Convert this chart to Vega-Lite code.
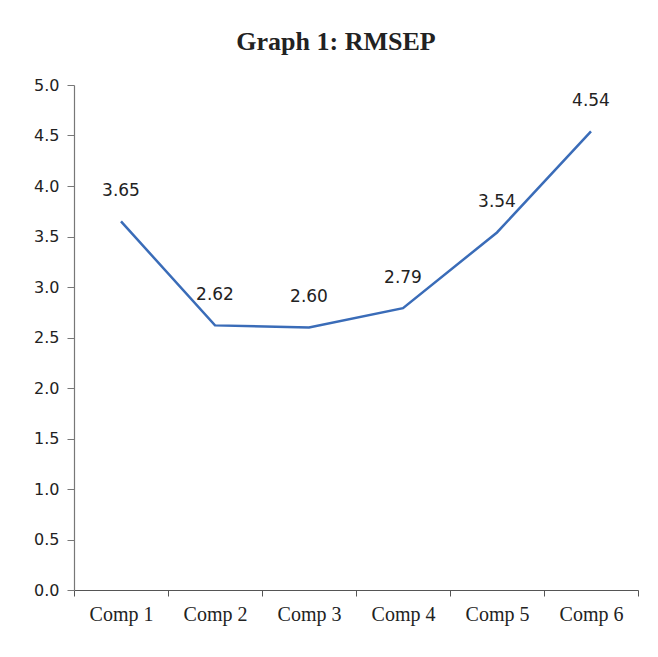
{
  "$schema": "https://vega.github.io/schema/vega-lite/v6.json",
  "width": 564,
  "height": 505,
  "autosize": {"type": "none"},
  "padding": {"left": 74, "top": 85, "right": 20, "bottom": 67},
  "background": "white",
  "title": {
    "text": "Graph 1: RMSEP",
    "font": "Liberation Serif",
    "fontWeight": "bold",
    "fontSize": 26,
    "color": "#222222",
    "anchor": "middle",
    "dx": -20,
    "offset": 22
  },
  "config": {
    "view": {"stroke": null},
    "axis": {"grid": false}
  },
  "data": {
    "values": [
      {"comp": "Comp 1", "rmsep": 3.65},
      {"comp": "Comp 2", "rmsep": 2.62},
      {"comp": "Comp 3", "rmsep": 2.60},
      {"comp": "Comp 4", "rmsep": 2.79},
      {"comp": "Comp 5", "rmsep": 3.54},
      {"comp": "Comp 6", "rmsep": 4.54}
    ]
  },
  "encoding": {
    "x": {
      "field": "comp",
      "type": "nominal",
      "sort": null,
      "scale": {"type": "band", "paddingInner": 0, "paddingOuter": 0},
      "axis": {
        "title": null,
        "labelAngle": 0,
        "tickBand": "extent",
        "tickSize": 6,
        "tickColor": "#555555",
        "domainColor": "#555555",
        "domainWidth": 1.2,
        "labelFont": "Liberation Serif",
        "labelFontSize": 20,
        "labelColor": "#222222",
        "labelPadding": 8
      }
    },
    "y": {
      "field": "rmsep",
      "type": "quantitative",
      "scale": {"domain": [0, 5], "nice": false},
      "axis": {
        "title": null,
        "values": [0, 0.5, 1, 1.5, 2, 2.5, 3, 3.5, 4, 4.5, 5],
        "format": ".1f",
        "tickSize": 7,
        "tickColor": "#777777",
        "domainColor": "#777777",
        "domainWidth": 1.2,
        "labelFont": "DejaVu Sans",
        "labelFontSize": 16,
        "labelColor": "#222222",
        "labelPadding": 8
      }
    }
  },
  "layer": [
    {
      "mark": {"type": "line", "color": "#3a6cb8", "strokeWidth": 2.5}
    },
    {
      "mark": {
        "type": "text",
        "dy": -30,
        "baseline": "middle",
        "align": "center",
        "font": "DejaVu Sans",
        "fontSize": 17,
        "color": "#222222"
      },
      "encoding": {
        "text": {"field": "rmsep", "type": "quantitative", "format": ".2f"}
      }
    }
  ]
}
